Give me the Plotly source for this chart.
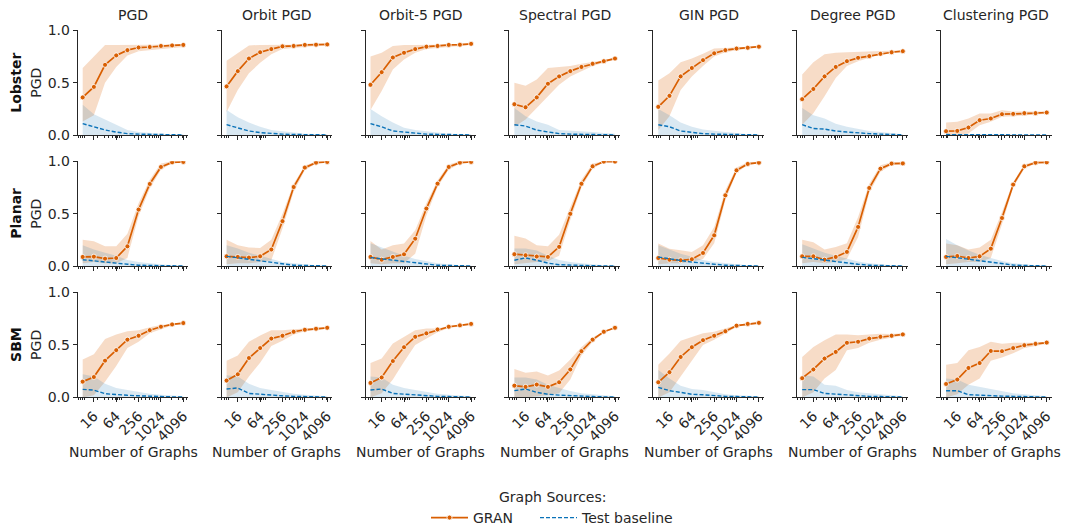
import plotly.graph_objects as go

# ---------------- data ----------------
n_graphs = [8, 16, 32, 64, 128, 256, 512, 1024, 2048, 4096]
x_tick_vals = [16, 64, 256, 1024, 4096]
x_tick_text = ["16", "64", "256", "1024", "4096"]
y_tick_vals = [0.0, 0.5, 1.0]
y_tick_text = ["0.0", "0.5", "1.0"]
metrics = ["PGD", "Orbit PGD", "Orbit-5 PGD", "Spectral PGD", "GIN PGD", "Degree PGD", "Clustering PGD"]
datasets = ["Lobster", "Planar", "SBM"]

lobster_gran = [
    [0.36, 0.46, 0.67, 0.76, 0.81, 0.835, 0.84, 0.85, 0.855, 0.86],
    [0.465, 0.61, 0.73, 0.79, 0.82, 0.846, 0.85, 0.86, 0.862, 0.865],
    [0.48, 0.60, 0.74, 0.785, 0.82, 0.843, 0.85, 0.86, 0.862, 0.87],
    [0.295, 0.266, 0.36, 0.49, 0.56, 0.61, 0.65, 0.68, 0.705, 0.73],
    [0.27, 0.375, 0.56, 0.64, 0.715, 0.78, 0.81, 0.825, 0.833, 0.843],
    [0.343, 0.44, 0.56, 0.65, 0.705, 0.737, 0.753, 0.775, 0.79, 0.80],
    [0.038, 0.041, 0.073, 0.143, 0.159, 0.20, 0.203, 0.21, 0.21, 0.216],
]
lobster_gran_hi = [
    [0.64, 0.75, 0.86, 0.86, 0.86, 0.86, 0.86, 0.865, 0.865, 0.865],
    [0.71, 0.785, 0.855, 0.86, 0.86, 0.86, 0.86, 0.865, 0.865, 0.868],
    [0.75, 0.785, 0.85, 0.86, 0.86, 0.86, 0.862, 0.865, 0.868, 0.872],
    [0.50, 0.47, 0.53, 0.64, 0.65, 0.66, 0.68, 0.695, 0.715, 0.74],
    [0.52, 0.59, 0.695, 0.73, 0.775, 0.825, 0.83, 0.835, 0.84, 0.848],
    [0.577, 0.695, 0.77, 0.785, 0.79, 0.795, 0.80, 0.80, 0.805, 0.81],
    [0.12, 0.127, 0.159, 0.206, 0.206, 0.238, 0.225, 0.225, 0.225, 0.225],
]
lobster_gran_lo = [
    [0.13, 0.19, 0.50, 0.65, 0.76, 0.80, 0.81, 0.82, 0.83, 0.84],
    [0.22, 0.43, 0.59, 0.69, 0.77, 0.82, 0.83, 0.84, 0.85, 0.855],
    [0.24, 0.42, 0.625, 0.72, 0.785, 0.82, 0.835, 0.845, 0.85, 0.86],
    [0.08, 0.15, 0.27, 0.37, 0.48, 0.56, 0.61, 0.66, 0.69, 0.72],
    [0.05, 0.18, 0.43, 0.56, 0.66, 0.75, 0.79, 0.81, 0.825, 0.836],
    [0.10, 0.21, 0.37, 0.545, 0.66, 0.705, 0.737, 0.77, 0.785, 0.79],
    [0.0, 0.0, 0.016, 0.095, 0.127, 0.175, 0.18, 0.19, 0.195, 0.205],
]
lobster_base = [
    [0.11, 0.08, 0.05, 0.03, 0.015, 0.01, 0.008, 0.005, 0.004, 0.003],
    [0.10, 0.07, 0.04, 0.025, 0.015, 0.01, 0.007, 0.005, 0.004, 0.003],
    [0.11, 0.08, 0.04, 0.03, 0.015, 0.01, 0.008, 0.005, 0.004, 0.003],
    [0.10, 0.087, 0.048, 0.03, 0.015, 0.01, 0.008, 0.006, 0.004, 0.003],
    [0.10, 0.08, 0.04, 0.025, 0.015, 0.01, 0.008, 0.005, 0.004, 0.003],
    [0.10, 0.064, 0.058, 0.04, 0.03, 0.02, 0.015, 0.01, 0.005, 0.004],
    [0.006, 0.005, 0.005, 0.004, 0.004, 0.003, 0.003, 0.002, 0.002, 0.002],
]
lobster_base_hi = [
    [0.29, 0.20, 0.15, 0.10, 0.05, 0.03, 0.02, 0.015, 0.01, 0.01],
    [0.24, 0.17, 0.12, 0.08, 0.05, 0.035, 0.025, 0.015, 0.01, 0.01],
    [0.25, 0.18, 0.12, 0.07, 0.05, 0.035, 0.025, 0.015, 0.01, 0.01],
    [0.26, 0.18, 0.13, 0.10, 0.05, 0.045, 0.04, 0.03, 0.02, 0.015],
    [0.25, 0.19, 0.12, 0.08, 0.055, 0.04, 0.03, 0.02, 0.01, 0.01],
    [0.26, 0.19, 0.16, 0.11, 0.08, 0.06, 0.04, 0.03, 0.02, 0.01],
    [0.012, 0.01, 0.01, 0.01, 0.008, 0.008, 0.006, 0.005, 0.005, 0.004],
]

planar_gran = [
    [0.089, 0.092, 0.073, 0.079, 0.19, 0.54, 0.784, 0.946, 0.99, 0.994],
    [0.095, 0.089, 0.083, 0.095, 0.16, 0.43, 0.755, 0.94, 0.987, 0.994],
    [0.089, 0.063, 0.089, 0.114, 0.263, 0.55, 0.787, 0.946, 0.987, 0.994],
    [0.115, 0.105, 0.093, 0.089, 0.185, 0.50, 0.786, 0.952, 0.997, 0.997],
    [0.079, 0.063, 0.057, 0.067, 0.127, 0.295, 0.676, 0.914, 0.975, 0.987],
    [0.095, 0.095, 0.063, 0.089, 0.137, 0.375, 0.746, 0.93, 0.978, 0.98],
    [0.089, 0.098, 0.079, 0.095, 0.168, 0.46, 0.778, 0.952, 0.987, 0.99],
]
planar_gran_hi = [
    [0.254, 0.238, 0.19, 0.19, 0.31, 0.60, 0.825, 0.98, 1.0, 1.0],
    [0.254, 0.20, 0.178, 0.175, 0.254, 0.50, 0.787, 0.96, 0.997, 1.0],
    [0.24, 0.16, 0.20, 0.216, 0.343, 0.60, 0.82, 0.97, 1.0, 1.0],
    [0.29, 0.265, 0.20, 0.19, 0.30, 0.57, 0.824, 0.98, 1.0, 1.0],
    [0.216, 0.168, 0.152, 0.137, 0.20, 0.375, 0.724, 0.94, 0.99, 0.995],
    [0.254, 0.23, 0.16, 0.184, 0.22, 0.47, 0.787, 0.962, 0.99, 0.99],
    [0.216, 0.20, 0.16, 0.178, 0.254, 0.517, 0.803, 0.97, 1.0, 1.0],
]
planar_gran_lo = [
    [0.03, 0.04, 0.03, 0.03, 0.08, 0.48, 0.74, 0.92, 0.985, 0.99],
    [0.02, 0.03, 0.03, 0.04, 0.057, 0.36, 0.71, 0.915, 0.98, 0.99],
    [0.03, 0.02, 0.03, 0.03, 0.12, 0.485, 0.755, 0.92, 0.98, 0.99],
    [0.02, 0.03, 0.04, 0.05, 0.10, 0.44, 0.75, 0.93, 0.99, 0.995],
    [0.02, 0.03, 0.03, 0.04, 0.07, 0.22, 0.63, 0.89, 0.965, 0.98],
    [0.03, 0.04, 0.03, 0.04, 0.07, 0.28, 0.70, 0.90, 0.965, 0.97],
    [0.02, 0.03, 0.04, 0.04, 0.08, 0.40, 0.75, 0.93, 0.98, 0.985],
]
planar_base = [
    [0.063, 0.05, 0.04, 0.03, 0.02, 0.01, 0.008, 0.005, 0.003, 0.003],
    [0.095, 0.08, 0.065, 0.05, 0.04, 0.02, 0.01, 0.008, 0.005, 0.003],
    [0.083, 0.07, 0.055, 0.045, 0.03, 0.02, 0.01, 0.008, 0.005, 0.003],
    [0.058, 0.08, 0.058, 0.03, 0.015, 0.01, 0.008, 0.005, 0.004, 0.003],
    [0.089, 0.07, 0.055, 0.04, 0.03, 0.015, 0.01, 0.008, 0.005, 0.003],
    [0.085, 0.075, 0.06, 0.045, 0.03, 0.02, 0.01, 0.008, 0.005, 0.003],
    [0.095, 0.08, 0.065, 0.05, 0.035, 0.02, 0.012, 0.008, 0.005, 0.003],
]
planar_base_hi = [
    [0.20, 0.16, 0.13, 0.10, 0.06, 0.04, 0.03, 0.02, 0.01, 0.01],
    [0.20, 0.17, 0.13, 0.10, 0.07, 0.04, 0.03, 0.02, 0.01, 0.01],
    [0.22, 0.18, 0.14, 0.10, 0.07, 0.05, 0.03, 0.02, 0.01, 0.01],
    [0.17, 0.17, 0.15, 0.10, 0.06, 0.04, 0.03, 0.02, 0.01, 0.01],
    [0.20, 0.16, 0.12, 0.09, 0.06, 0.04, 0.03, 0.02, 0.01, 0.01],
    [0.21, 0.17, 0.13, 0.10, 0.07, 0.045, 0.03, 0.02, 0.01, 0.01],
    [0.26, 0.20, 0.15, 0.11, 0.08, 0.05, 0.03, 0.02, 0.01, 0.01],
]

sbm_gran = [
    [0.15, 0.194, 0.35, 0.45, 0.55, 0.587, 0.64, 0.673, 0.695, 0.708],
    [0.16, 0.22, 0.375, 0.47, 0.56, 0.587, 0.625, 0.644, 0.654, 0.663],
    [0.138, 0.19, 0.346, 0.478, 0.577, 0.61, 0.647, 0.673, 0.686, 0.70],
    [0.112, 0.10, 0.122, 0.10, 0.144, 0.266, 0.44, 0.55, 0.625, 0.663],
    [0.144, 0.24, 0.385, 0.478, 0.545, 0.587, 0.63, 0.683, 0.70, 0.71],
    [0.183, 0.266, 0.37, 0.433, 0.52, 0.53, 0.56, 0.577, 0.587, 0.60],
    [0.128, 0.17, 0.28, 0.327, 0.442, 0.44, 0.47, 0.497, 0.51, 0.522],
]
sbm_gran_hi = [
    [0.36, 0.41, 0.555, 0.60, 0.63, 0.64, 0.667, 0.69, 0.70, 0.714],
    [0.35, 0.40, 0.53, 0.59, 0.64, 0.64, 0.648, 0.657, 0.66, 0.67],
    [0.327, 0.37, 0.513, 0.577, 0.64, 0.657, 0.657, 0.68, 0.69, 0.705],
    [0.27, 0.234, 0.247, 0.208, 0.256, 0.36, 0.48, 0.57, 0.63, 0.67],
    [0.31, 0.417, 0.54, 0.577, 0.61, 0.625, 0.657, 0.69, 0.705, 0.72],
    [0.385, 0.48, 0.545, 0.60, 0.60, 0.593, 0.60, 0.606, 0.603, 0.61],
    [0.31, 0.327, 0.45, 0.48, 0.53, 0.51, 0.52, 0.52, 0.52, 0.53],
]
sbm_gran_lo = [
    [0.0, 0.02, 0.15, 0.30, 0.47, 0.53, 0.61, 0.65, 0.685, 0.70],
    [0.0, 0.05, 0.20, 0.33, 0.49, 0.54, 0.60, 0.63, 0.645, 0.655],
    [0.0, 0.04, 0.17, 0.34, 0.50, 0.56, 0.62, 0.66, 0.675, 0.69],
    [0.0, 0.0, 0.01, 0.02, 0.04, 0.17, 0.40, 0.53, 0.615, 0.655],
    [0.0, 0.05, 0.20, 0.35, 0.50, 0.55, 0.61, 0.67, 0.69, 0.70],
    [0.0, 0.05, 0.18, 0.26, 0.45, 0.47, 0.52, 0.55, 0.57, 0.59],
    [0.0, 0.03, 0.12, 0.18, 0.35, 0.38, 0.42, 0.47, 0.49, 0.51],
]
sbm_base = [
    [0.076, 0.07, 0.035, 0.025, 0.02, 0.015, 0.01, 0.008, 0.005, 0.003],
    [0.08, 0.09, 0.038, 0.028, 0.02, 0.015, 0.01, 0.008, 0.005, 0.003],
    [0.07, 0.08, 0.038, 0.03, 0.02, 0.015, 0.01, 0.008, 0.005, 0.003],
    [0.064, 0.08, 0.048, 0.03, 0.022, 0.015, 0.01, 0.008, 0.005, 0.003],
    [0.096, 0.064, 0.048, 0.03, 0.025, 0.015, 0.01, 0.008, 0.005, 0.003],
    [0.074, 0.074, 0.038, 0.03, 0.02, 0.015, 0.01, 0.008, 0.005, 0.003],
    [0.064, 0.064, 0.026, 0.02, 0.015, 0.012, 0.01, 0.008, 0.005, 0.003],
]
sbm_base_hi = [
    [0.22, 0.20, 0.13, 0.09, 0.07, 0.05, 0.035, 0.025, 0.015, 0.01],
    [0.21, 0.20, 0.13, 0.09, 0.07, 0.05, 0.035, 0.025, 0.015, 0.01],
    [0.20, 0.19, 0.12, 0.09, 0.07, 0.05, 0.035, 0.025, 0.015, 0.01],
    [0.19, 0.19, 0.17, 0.12, 0.09, 0.06, 0.04, 0.03, 0.02, 0.01],
    [0.26, 0.18, 0.11, 0.08, 0.07, 0.05, 0.03, 0.02, 0.015, 0.01],
    [0.21, 0.20, 0.12, 0.11, 0.07, 0.05, 0.04, 0.03, 0.02, 0.01],
    [0.18, 0.17, 0.12, 0.10, 0.08, 0.06, 0.04, 0.03, 0.02, 0.01],
]

base_lo = [0.0, 0.0, 0.0, 0.0, 0.0, 0.0, 0.0, 0.0, 0.0, 0.0]

gran_mean = [lobster_gran, planar_gran, sbm_gran]
gran_hi = [lobster_gran_hi, planar_gran_hi, sbm_gran_hi]
gran_lo = [lobster_gran_lo, planar_gran_lo, sbm_gran_lo]
base_mean = [lobster_base, planar_base, sbm_base]
base_hi = [lobster_base_hi, planar_base_hi, sbm_base_hi]

# ---------------- style ----------------
W, H = 1065, 527
FONT = "DejaVu Sans"
TXT = "#262626"
ORANGE = "#d95f02"
ORANGE_FILL = "rgba(217,95,2,0.22)"
BLUE = "#0a72b8"
BLUE_FILL = "rgba(31,119,180,0.17)"

col_x0 = 77.7
col_step = 143.9
col_w = 110.6
row_top0 = 30.2
row_step = 131.1
row_h = 105.0

minor_vals = [6, 7, 8, 9, 20, 30, 40, 50, 60, 70, 80, 90,
              200, 300, 400, 500, 600, 700, 800, 900, 2000, 3000, 4000, 5000]

fig = go.Figure()
layout = {}
annotations = []

for r in range(3):
    for c in range(7):
        idx = r * 7 + c + 1
        xn = "x" if idx == 1 else f"x{idx}"
        yn = "y" if idx == 1 else f"y{idx}"
        first = (idx == 1)

        xs = n_graphs
        fig.add_trace(go.Scatter(
            x=xs + xs[::-1], y=gran_hi[r][c] + gran_lo[r][c][::-1],
            fill="toself", fillcolor=ORANGE_FILL, line=dict(width=0),
            mode="lines", hoverinfo="skip", showlegend=False, xaxis=xn, yaxis=yn))
        fig.add_trace(go.Scatter(
            x=xs + xs[::-1], y=base_hi[r][c] + base_lo[::-1],
            fill="toself", fillcolor=BLUE_FILL, line=dict(width=0),
            mode="lines", hoverinfo="skip", showlegend=False, xaxis=xn, yaxis=yn))
        fig.add_trace(go.Scatter(
            x=xs, y=gran_mean[r][c], mode="lines+markers", name="GRAN",
            line=dict(color=ORANGE, width=1.7),
            marker=dict(size=5, color=ORANGE, line=dict(color="white", width=0.8)),
            showlegend=first, legend="legend", xaxis=xn, yaxis=yn))
        fig.add_trace(go.Scatter(
            x=xs, y=base_mean[r][c], mode="lines", name="Test baseline",
            line=dict(color=BLUE, width=1.4, dash="4px,2px"),
            showlegend=first, legend="legend2", xaxis=xn, yaxis=yn))

        x0 = col_x0 + col_step * c
        top = row_top0 + row_step * r
        bottom = top + row_h
        xkey = "xaxis" if idx == 1 else f"xaxis{idx}"
        ykey = "yaxis" if idx == 1 else f"yaxis{idx}"
        layout[xkey] = dict(
            domain=[x0 / W, (x0 + col_w) / W], anchor=yn, type="log", automargin=False,
            range=[0.7686, 3.747], tickmode="array", tickvals=x_tick_vals,
            ticktext=x_tick_text,
            showticklabels=(r == 2), tickangle=-45,
            ticks="outside", ticklen=4, tickwidth=1, tickcolor=TXT,
            minor=dict(tickmode="array", tickvals=minor_vals, ticks="outside",
                       ticklen=2, tickwidth=0.8, tickcolor=TXT, showgrid=False),
            showline=True, linecolor=TXT, linewidth=1, showgrid=False, zeroline=False,
            tickfont=dict(family=FONT, size=14, color=TXT))
        layout[ykey] = dict(
            domain=[1 - bottom / H, 1 - top / H], anchor=xn, range=[0, 1], automargin=False,
            tickmode="array", tickvals=y_tick_vals, ticktext=y_tick_text,
            showticklabels=(c == 0), ticks="outside", ticklen=4, tickwidth=1,
            tickcolor=TXT, showline=True, linecolor=TXT, linewidth=1,
            showgrid=False, zeroline=False,
            tickfont=dict(family=FONT, size=14, color=TXT))

        if r == 0:
            annotations.append(dict(
                text=metrics[c], x=(x0 + col_w / 2) / W, y=1 - 15 / H,
                xref="paper", yref="paper", showarrow=False,
                xanchor="center", yanchor="middle",
                font=dict(family=FONT, size=14, color=TXT)))
        if r == 2:
            annotations.append(dict(
                text="Number of Graphs", x=(x0 + col_w / 2) / W, y=1 - 452 / H,
                xref="paper", yref="paper", showarrow=False,
                xanchor="center", yanchor="middle",
                font=dict(family=FONT, size=14, color=TXT)))
    rc = row_top0 + row_step * r + row_h / 2
    annotations.append(dict(
        text=f"<b>{datasets[r]}</b>", x=16 / W, y=1 - rc / H, xref="paper", yref="paper",
        showarrow=False, textangle=-90, xanchor="center", yanchor="middle",
        font=dict(family=FONT, size=14, color="#111111")))
    annotations.append(dict(
        text="PGD", x=36 / W, y=1 - rc / H, xref="paper", yref="paper",
        showarrow=False, textangle=-90, xanchor="center", yanchor="middle",
        font=dict(family=FONT, size=14, color=TXT)))

annotations.append(dict(
    text="Graph Sources:", x=553 / W, y=1 - 497 / H, xref="paper", yref="paper",
    showarrow=False, xanchor="center", yanchor="middle",
    font=dict(family=FONT, size=14, color=TXT)))

leg_common = dict(orientation="h", y=1 - 518 / H, xanchor="left", yanchor="middle",
                  itemwidth=37,
                  font=dict(family=FONT, size=14, color=TXT), bgcolor="rgba(0,0,0,0)")

fig.update_layout(
    width=W, height=H, margin=dict(l=0, r=0, t=0, b=0, autoexpand=False),
    paper_bgcolor="white", plot_bgcolor="white",
    font=dict(family=FONT, size=14, color=TXT),
    annotations=annotations,
    legend=dict(x=426 / W, **leg_common),
    legend2=dict(x=535 / W, **leg_common),
    **layout,
)

fig.write_html("out.html", config={"displayModeBar": False},
               post_script="document.body.style.margin='0';document.body.style.overflow='hidden';")
